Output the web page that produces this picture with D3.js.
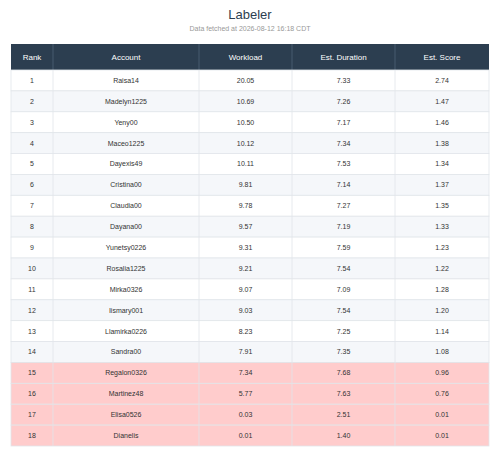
<!DOCTYPE html>
<html><head><meta charset="utf-8">
<script src="https://cdn.jsdelivr.net/npm/d3@7"></script>
<style>body{margin:0;background:#fff;font-family:"Liberation Sans",Arial,sans-serif;}</style>
</head><body>
<script>
// table data
var columns = ["Rank","Account","Workload","Est. Duration","Est. Score"];
var accounts = ["Raisa14","Madelyn1225","Yeny00","Maceo1225","Dayexis49","Cristina00","Claudia00","Dayana00","Yunetsy0226","Rosalia1225","Mirka0326","Iismary001","Llamirka0226","Sandra00","Regalon0326","Martinez48","Elisa0526","Dianelis"];
var workload = ["20.05","10.69","10.50","10.12","10.11","9.81","9.78","9.57","9.31","9.21","9.07","9.03","8.23","7.91","7.34","5.77","0.03","0.01"];
var duration = ["7.33","7.26","7.17","7.34","7.53","7.14","7.27","7.19","7.59","7.54","7.09","7.54","7.25","7.35","7.68","7.63","2.51","1.40"];
var score = ["2.74","1.47","1.46","1.38","1.34","1.37","1.35","1.33","1.23","1.22","1.28","1.20","1.14","1.08","0.96","0.76","0.01","0.01"];
var flagged = 14; // rows from this index on are highlighted

var W = 500, H = 461;
var svg = d3.select("body").append("svg").attr("width",W).attr("height",H);

svg.append("text").attr("x",W/2).attr("y",19).attr("text-anchor","middle")
    .attr("font-size",13).attr("fill","#2c3e50").text("Labeler");
svg.append("text").attr("x",W/2).attr("y",31).attr("text-anchor","middle")
    .attr("font-size",7).attr("fill","#999").text("Data fetched at 2026-08-12 16:18 CDT");

var edges = [11,53,199,292,395,489];
var headTop = 44, headH = 26;
var y = d3.scaleBand().domain(d3.range(accounts.length)).range([headTop+headH,446]);

svg.append("rect").attr("x",edges[0]).attr("y",headTop).attr("width",edges[5]-edges[0])
    .attr("height",headH).attr("fill","#2c3e50");
columns.forEach(function(c,i){
    svg.append("text").attr("x",(edges[i]+edges[i+1])/2).attr("y",headTop+headH/2+3)
        .attr("text-anchor","middle").attr("font-size",8).attr("fill","#fff").text(c);
    if(i>0) svg.append("line").attr("x1",edges[i]).attr("x2",edges[i])
        .attr("y1",headTop).attr("y2",headTop+headH).attr("stroke","#465a6e");
});

var rows = svg.selectAll("g.row").data(accounts).enter().append("g")
    .attr("transform",function(d,i){return "translate(0,"+y(i)+")";});
rows.append("rect").attr("x",edges[0]).attr("width",edges[5]-edges[0]).attr("height",y.bandwidth())
    .attr("fill",function(d,i){return i>=flagged ? "#ffcccc" : (i%2 ? "#f5f7fa" : "#fff");})
    .attr("stroke","#e1e5ea").attr("stroke-width",0.8);
rows.each(function(d,i){
    var g = d3.select(this);
    var vals = [String(i+1),d,workload[i],duration[i],score[i]];
    vals.forEach(function(v,j){
        g.append("text").attr("x",(edges[j]+edges[j+1])/2).attr("y",y.bandwidth()/2+2.5)
            .attr("text-anchor","middle").attr("font-size",7).attr("fill","#333").text(v);
        if(j>0) g.append("line").attr("x1",edges[j]).attr("x2",edges[j])
            .attr("y1",0).attr("y2",y.bandwidth()).attr("stroke","#e1e5ea").attr("stroke-width",0.8);
    });
});
</script>
</body></html>
